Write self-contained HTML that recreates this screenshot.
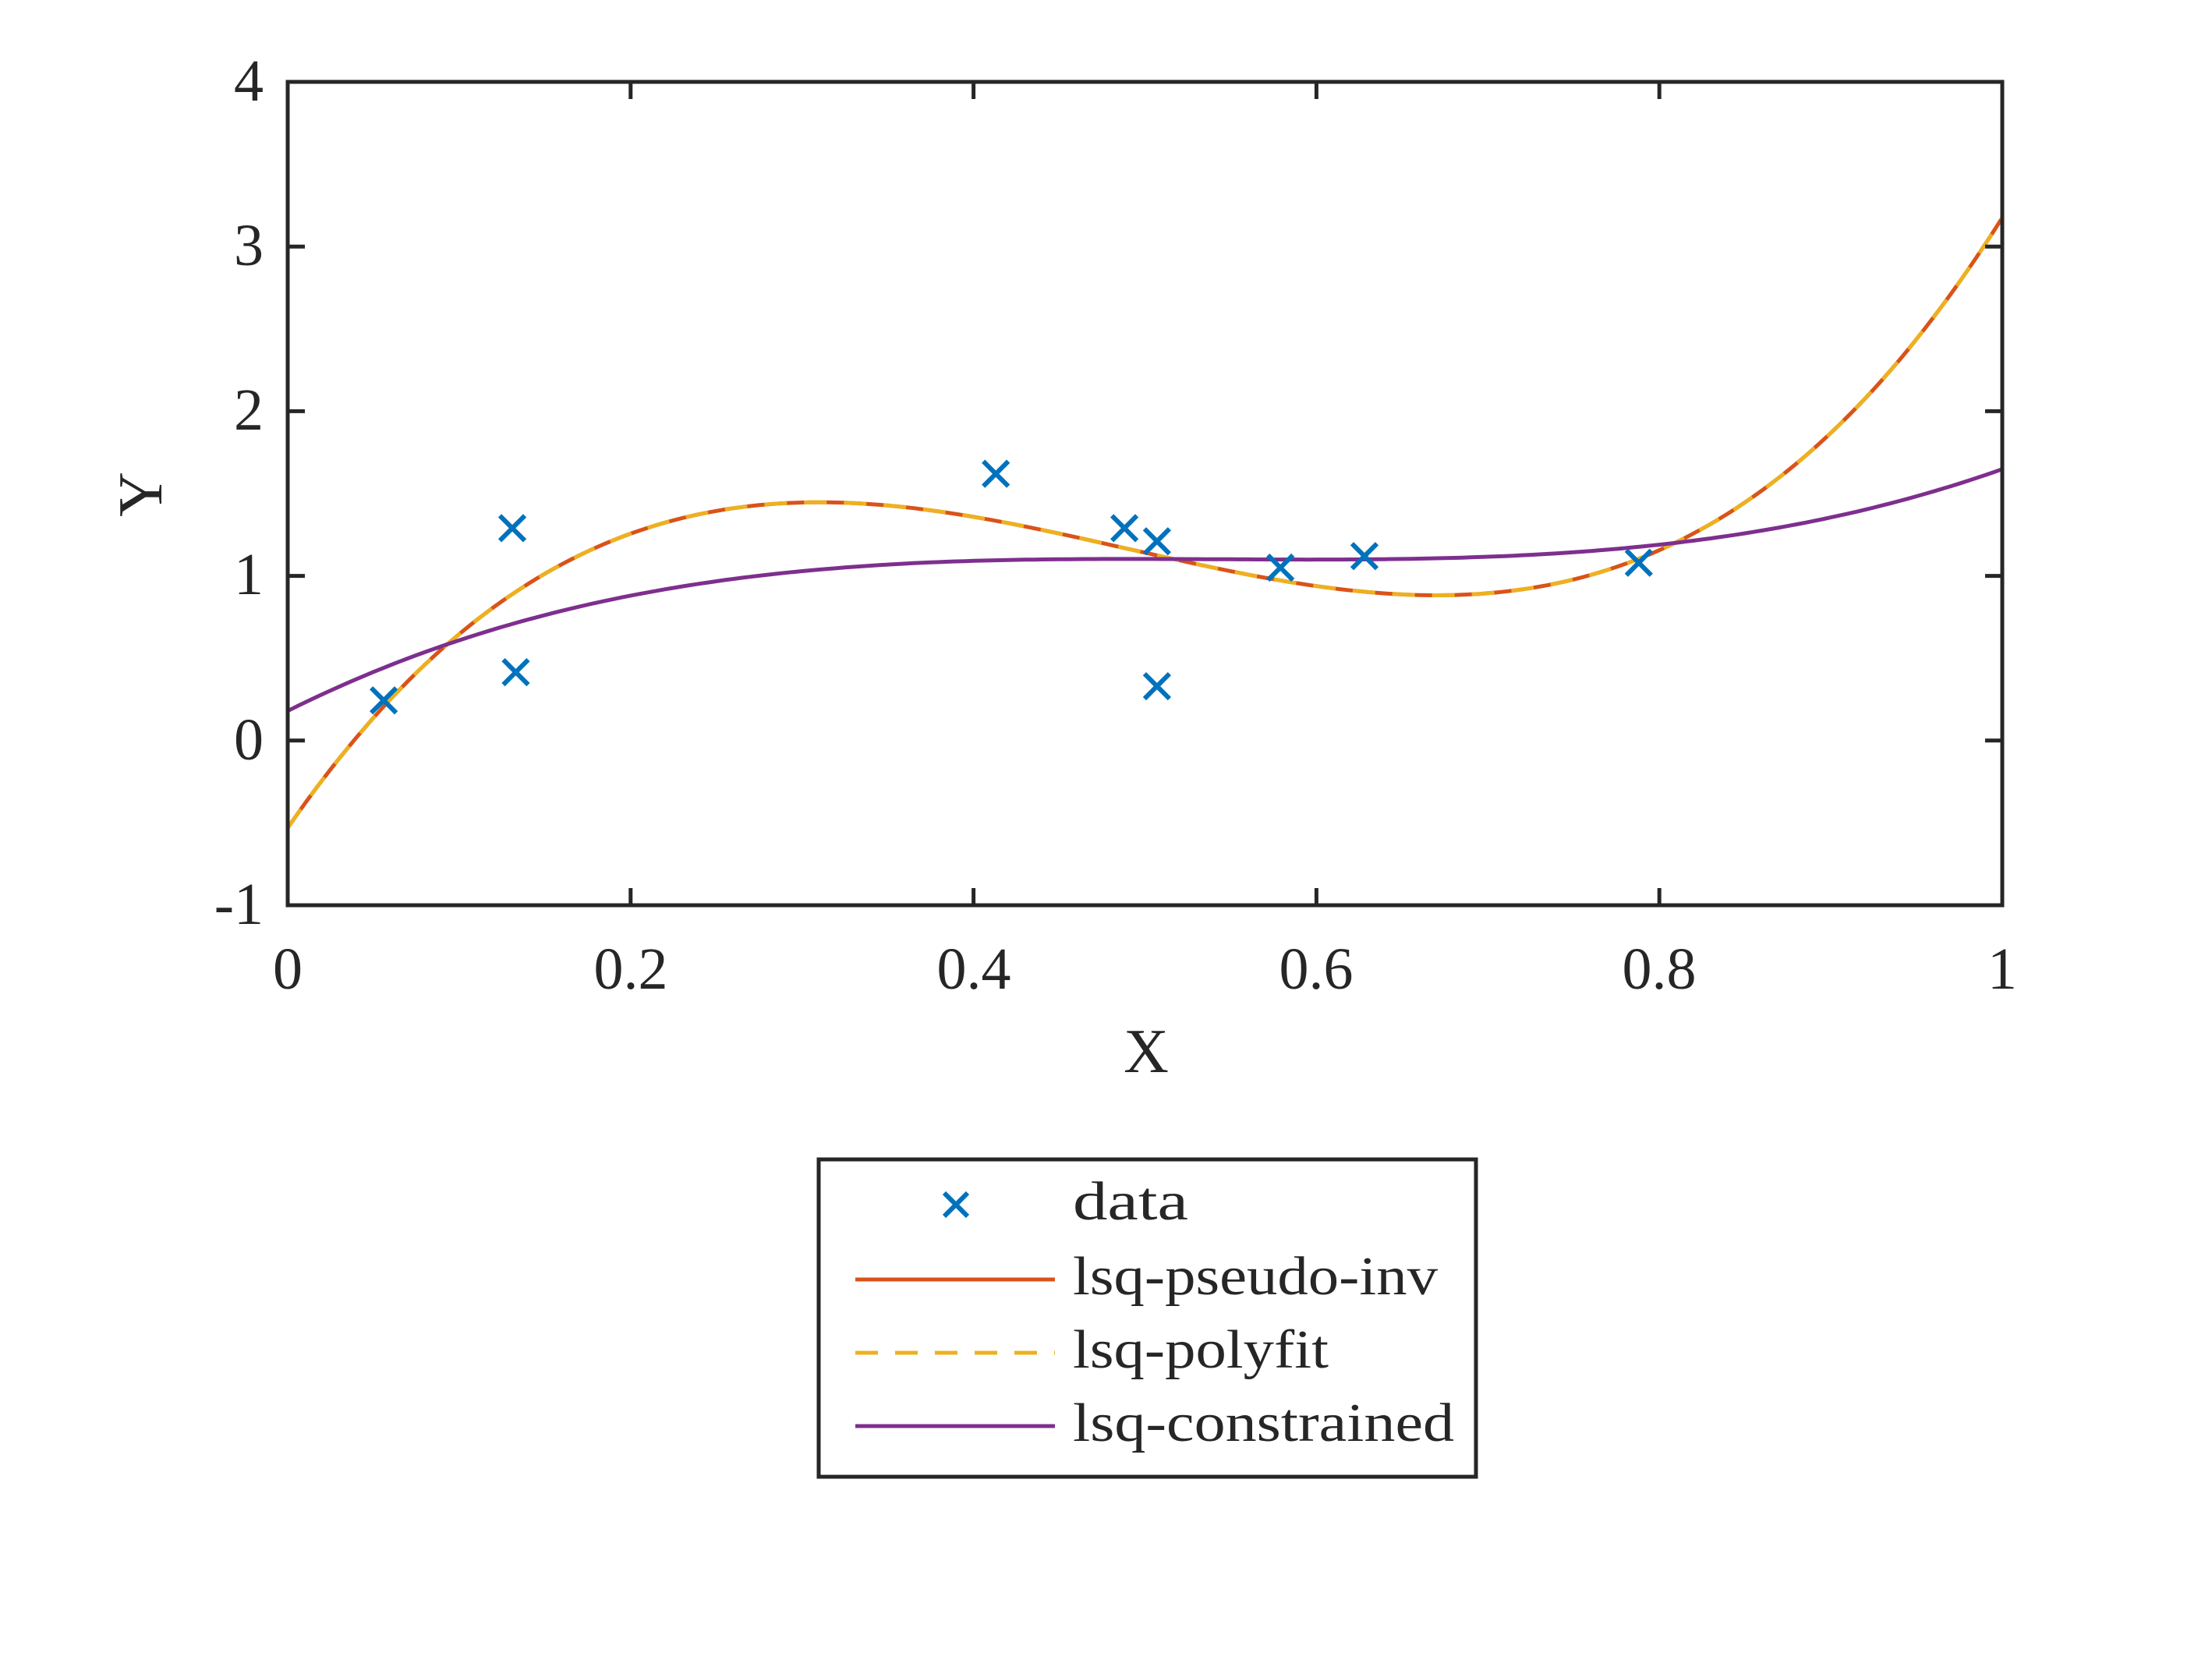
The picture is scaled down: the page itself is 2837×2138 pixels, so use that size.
<!DOCTYPE html>
<html><head><meta charset="utf-8"><style>
html,body{margin:0;padding:0;background:#fff;}
svg{display:block;}
text{font-family:"Liberation Serif",serif;fill:#262626;}
</style></head><body>
<svg id="s" width="2837" height="2138" viewBox="0 0 2837 2138" xmlns="http://www.w3.org/2000/svg">
<rect width="2837" height="2138" fill="#fff"/>
<g id="curves"></g>
<g id="marks" stroke="#0072BD" stroke-width="6" fill="none"></g>
<rect x="369" y="105" width="2199" height="1056" fill="none" stroke="#262626" stroke-width="5"/>
<g id="ticks" stroke="#262626" stroke-width="5"></g>
<g font-size="76" text-anchor="middle">
<text x="369" y="1268">0</text>
<text x="809" y="1268">0.2</text>
<text x="1249" y="1268">0.4</text>
<text x="1688" y="1268">0.6</text>
<text x="2128" y="1268">0.8</text>
<text x="2568" y="1268">1</text>
</g>
<g font-size="76" text-anchor="end">
<text x="338" y="129">4</text>
<text x="338" y="340">3</text>
<text x="338" y="551">2</text>
<text x="338" y="762">1</text>
<text x="338" y="974">0</text>
<text x="338" y="1185">-1</text>
</g>
<text x="1470" y="1375" font-size="80" text-anchor="middle">X</text>
<text transform="translate(207,634) rotate(-90)" font-size="80" text-anchor="middle">Y</text>
<rect x="1050" y="1487" width="843" height="407" fill="#fff" stroke="#262626" stroke-width="5"/>
<g stroke="#0072BD" stroke-width="6"><line x1="1211" y1="1530" x2="1241" y2="1560"/><line x1="1241" y1="1530" x2="1211" y2="1560"/></g>
<line x1="1097" y1="1641" x2="1353" y2="1641" stroke="#D95319" stroke-width="5"/>
<line x1="1097" y1="1735" x2="1353" y2="1735" stroke="#EDB120" stroke-width="5" stroke-dasharray="29,22"/>
<line x1="1097" y1="1829" x2="1353" y2="1829" stroke="#7E2F8E" stroke-width="5"/>
<g font-size="70">
<text x="1376" y="1564" textLength="148" lengthAdjust="spacingAndGlyphs">data</text>
<text x="1376" y="1660" textLength="468" lengthAdjust="spacingAndGlyphs">lsq-pseudo-inv</text>
<text x="1376" y="1754" textLength="328" lengthAdjust="spacingAndGlyphs">lsq-polyfit</text>
<text x="1376" y="1848" textLength="489" lengthAdjust="spacingAndGlyphs">lsq-constrained</text>
</g>
</svg>
<script>
var NS="http://www.w3.org/2000/svg";
function X(x){return 369+x*2199;} function Y(y){return 105+(4-y)*211.2;}
function f1(x){return 24.2*(x*x*x-1.47*x*x+0.6231*x)-0.53;}
function f2(x){return 5.95*x*x*x-9.68*x*x+5.198*x+0.18;}
function path(f){var d="";for(var i=0;i<=200;i++){var x=i/200;d+=(i?"L":"M")+X(x).toFixed(1)+","+Y(f(x)).toFixed(1);}return d;}
function add(g,tag,attrs){var e=document.createElementNS(NS,tag);for(var k in attrs)e.setAttribute(k,attrs[k]);g.appendChild(e);}
var c=document.getElementById("curves");
add(c,"path",{d:path(f1),stroke:"#D95319","stroke-width":5,fill:"none"});
add(c,"path",{d:path(f1),stroke:"#EDB120","stroke-width":5,fill:"none","stroke-dasharray":"29,22"});
add(c,"path",{d:path(f2),stroke:"#7E2F8E","stroke-width":5,fill:"none"});
var pts=[[.056,.244],[.131,1.29],[.133,.415],[.413,1.62],[.488,1.29],[.507,1.21],[.507,.33],[.579,1.05],[.628,1.12],[.788,1.08]];
var m=document.getElementById("marks");
pts.forEach(function(p){var x=X(p[0]),y=Y(p[1]),r=16;
add(m,"line",{x1:x-r,y1:y-r,x2:x+r,y2:y+r});add(m,"line",{x1:x-r,y1:y+r,x2:x+r,y2:y-r});});
var t=document.getElementById("ticks");
for(var i=1;i<5;i++){var x=X(i*0.2);add(t,"line",{x1:x,y1:1161,x2:x,y2:1139});add(t,"line",{x1:x,y1:105,x2:x,y2:127});}
for(var j=0;j<4;j++){var y=Y(j);add(t,"line",{x1:369,y1:y,x2:391,y2:y});add(t,"line",{x1:2568,y1:y,x2:2546,y2:y});}
</script>
</body></html>
